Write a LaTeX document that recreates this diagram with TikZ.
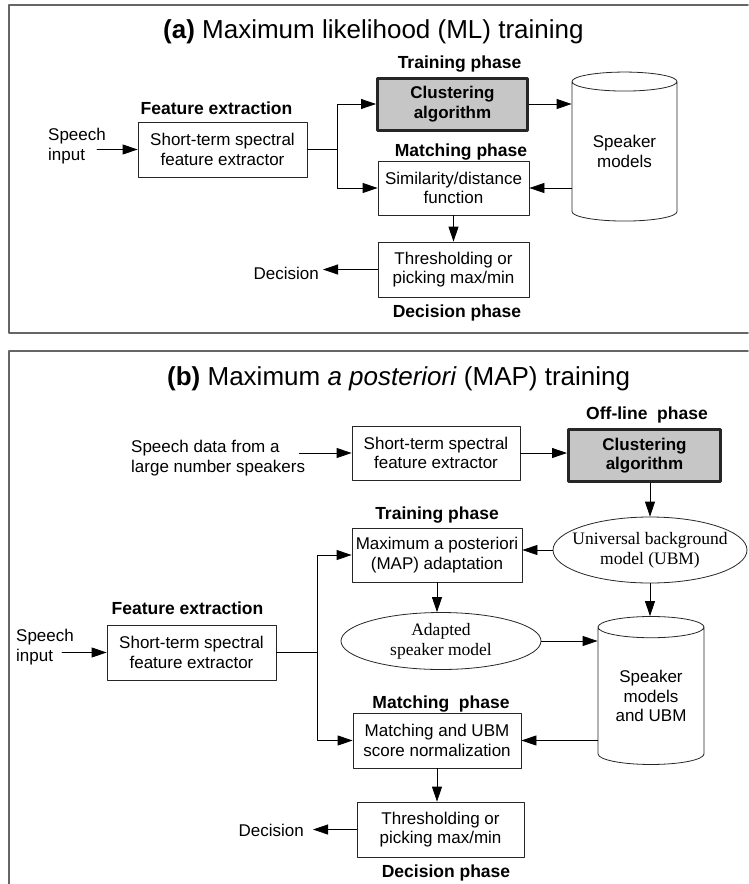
\documentclass[tikz,border=0pt]{standalone}
\usepackage{fontspec}
\setmainfont{Liberation Sans}
\newfontfamily\timesfont{Liberation Serif}
\usetikzlibrary{arrows.meta,shapes.geometric}
\newcommand{\bodyfont}{\fontsize{17}{19.5}\selectfont}
\newcommand{\zw}[1]{\makebox[0pt]{#1}}

\begin{document}
\begin{tikzpicture}[x=1pt, y=-1pt, line cap=round, line join=round, >={Triangle[length=15pt,width=10pt]},
  box/.style={draw=black!85, line width=0.8pt, fill=white, align=center, inner sep=0pt, font=\bodyfont},
  clus/.style={box, fill=gray!45, line width=3pt, font=\bodyfont\bfseries, minimum width=150pt, minimum height=52pt},
  phase/.style={font=\fontsize{17.5}{20}\selectfont\bfseries, inner sep=0pt, text height=12.6pt, text depth=0pt},
  title/.style={font=\fontsize{26}{30}\selectfont, inner sep=0pt},
  txt/.style={font=\bodyfont, align=left, inner sep=0pt},
  db/.style={cylinder, shape border rotate=90, draw=black!85, line width=0.8pt, fill=white, aspect=0.3, align=center, font=\bodyfont, inner sep=0pt},
  model/.style={ellipse, draw=black!85, line width=0.8pt, fill=white, align=center, inner sep=0pt, font=\timesfont\fontsize{17.5}{20}\selectfont},
  flow/.style={->, line width=0.8pt},
  panel/.style={draw=black!60, line width=1.5pt}]
  \useasboundingbox (0,0) rectangle (748,884);

  \draw[panel] (748,5) -- (9,5) -- (9,333) -- (748,333);
  \node[title, anchor=base west] (ttla) at (163,38) {\textbf{(a)} Maximum likelihood (ML) training};
  \node[txt, anchor=west] (spa) at (48,146) {Speech\\input};
  \node[phase] (fela) at (216.5,108) {Feature extraction};
  \node[box, minimum width=169pt, minimum height=55pt] (fea) at (222.5,149.5) {Short-term spectral\\feature extractor};
  \node[phase] (trla) at (459.5,62) {Training phase};
  \node[clus] (clusa) at (452.5,104) {Clustering\\algorithm};
  \node[db, minimum width=105pt, minimum height=149pt] (dba) at (624.5,151.5) {Speaker\\models};
  \node[phase] (mtla) at (461,150) {Matching phase};
  \node[box, minimum width=151pt, minimum height=54pt] (sima) at (453.5,188) {Similarity/distance\\function};
  \node[box, minimum width=151pt, minimum height=55pt] (thra) at (453.5,269.5) {Thresholding or\\picking max/min};
  \node[phase] (dcla) at (457,311) {Decision phase};
  \node[txt, anchor=east, inner xsep=4pt] (deca) at (323,273) {Decision};
  \coordinate (spla) at (337,149.5);

  \draw[flow] ([xshift=-9pt]spa.east |- fea.west) -- (fea.west);
  \draw[line width=0.8pt] (fea.east) -- (spla);
  \draw[flow] (spla) |- (clusa.west);
  \draw[flow] (spla) |- (sima.west);
  \draw[flow] (clusa.east) -- (clusa.east -| dba.west);
  \draw[flow] (dba.west |- sima.east) -- (sima.east);
  \draw[flow] (sima) -- (thra);
  \draw[flow] (thra.west) -- (thra.west -| deca.east);

  \draw[panel] (748,351) -- (9,351) -- (9,890);
  \node[title, anchor=base west] (ttlb) at (167,385) {\textbf{(b)} Maximum \textit{a posteriori} (MAP) training};
  \node[txt, anchor=west] (sdb) at (131,458) {Speech data from a\\large number speakers};
  \node[box, minimum width=168pt, minimum height=54pt] (feb1) at (436,453) {Short-term spectral\\feature extractor};
  \node[phase] (olb) at (647,413) {Off-line\ \ phase};
  \node[clus, minimum width=152pt] (clusb) at (644.5,455.5) {Clustering\\algorithm};
  \node[model, minimum width=194pt, minimum height=66pt] (ubm) at (650,550) {\zw{Universal background}\\\zw{model (UBM)}};
  \node[phase] (trlb) at (437,513) {Training phase};
  \node[box, minimum width=170pt, minimum height=54pt] (map) at (437,555) {\zw{Maximum a posteriori}\\(MAP) adaptation};
  \node[model, minimum width=200pt, minimum height=57pt] (adp) at (441,641) {\zw{Adapted}\\\zw{speaker model}};
  \node[db, minimum width=106pt, minimum height=148pt] (dbb) at (651,696) {Speaker\\models\\and UBM};
  \node[phase] (felb) at (187.5,608) {Feature extraction};
  \node[box, minimum width=169pt, minimum height=55pt] (feb2) at (191.5,652.5) {Short-term spectral\\feature extractor};
  \node[txt, anchor=west] (spb) at (16,647) {Speech\\input};
  \node[phase] (mtlb) at (441,702) {Matching\ \ phase};
  \node[box, minimum width=168pt, minimum height=55pt] (mat) at (437,740.5) {Matching and UBM\\score normalization};
  \node[box, minimum width=167pt, minimum height=55pt] (thrb) at (440.5,829.5) {Thresholding or\\picking max/min};
  \node[phase] (dclb) at (446,871) {Decision phase};
  \node[txt, anchor=east, inner xsep=9pt] (decb) at (313,830) {Decision};
  \coordinate (splb) at (317,652.5);

  \draw[flow] ([xshift=-6pt]sdb.east |- feb1.west) -- (feb1.west);
  \draw[flow] (feb1.east) -- (feb1.east -| clusb.west);
  \draw[flow] (ubm.north |- clusb.south) -- (ubm.north);
  \draw[flow] (ubm.west) -- (ubm.west -| map.east);
  \draw[flow] (map.south) -- (map.south |- adp.north);
  \draw[flow] (adp.east) -- (adp.east -| dbb.west);
  \draw[flow] (ubm.south) -- (ubm.south |- dbb.north);
  \draw[flow] ([xshift=-12pt]spb.east |- feb2.west) -- (feb2.west);
  \draw[line width=0.8pt] (feb2.east) -- (splb);
  \draw[flow] (splb) |- (map.west);
  \draw[flow] (splb) |- (mat.west);
  \draw[flow] (dbb.west |- mat.east) -- (mat.east);
  \draw[flow] (mat.south) -- (mat.south |- thrb.north);
  \draw[flow] (thrb.west) -- (thrb.west -| decb.east);
\end{tikzpicture}
\end{document}
